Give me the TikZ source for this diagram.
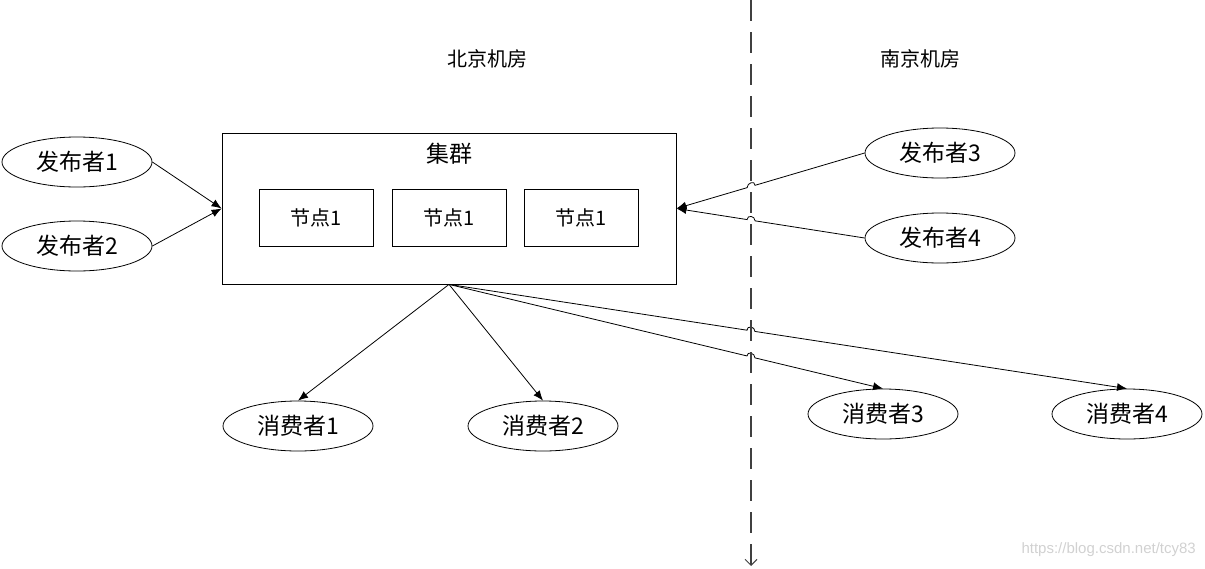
\documentclass[tikz,border=0pt]{standalone}
\usepackage{fontspec}
\setmainfont{Noto Sans CJK SC}
\newfontfamily\wmfont{Liberation Sans}
\usetikzlibrary{shapes.geometric,arrows.meta,calc}
\begin{document}
\begin{tikzpicture}[x=1pt,y=-1pt,
  ell/.style={draw, ellipse, minimum width=150pt, minimum height=50pt, inner sep=0pt, line width=0.8pt, font=\fontsize{23}{27}\selectfont},
  nodebox/.style={draw, rectangle, minimum width=114pt, minimum height=57pt, inner sep=0pt, line width=0.8pt, font=\fontsize{20}{24}\selectfont},
  clusterbox/.style={draw, rectangle, minimum width=454pt, minimum height=151pt, inner sep=0pt, line width=0.8pt},
  conn/.style={line width=0.8pt, -{Latex[length=10pt,width=8pt]}},
  lbl/.style={font=\fontsize{20}{24}\selectfont, inner sep=0pt},
  divider/.style={line width=1.6pt, draw=black!75, dash pattern=on 21pt off 11pt, -{Straight Barb[length=6pt,width=12pt,line width=1pt]}}
]
\useasboundingbox (0,0) rectangle (1205,568);

% labels
\node[lbl] (bj) at (487,59) {北京机房};
\node[lbl] (nj) at (920,59) {南京机房};

% cluster
\node[clusterbox] (cluster) at (449,208.5) {};
\node[inner sep=0pt, font=\fontsize{23}{27}\selectfont] (title) at (449,154) {集群};
\node[nodebox] (n1) at (316.5,217.5) {节点1};
\node[nodebox] (n2) at (449,217.5) {节点1};
\node[nodebox] (n3) at (581,217.5) {节点1};

% publishers
\node[ell] (p1) at (77,162) {发布者1};
\node[ell] (p2) at (77,246) {发布者2};
\node[ell] (p3) at (940,153) {发布者3};
\node[ell] (p4) at (940,238) {发布者4};

% consumers
\node[ell] (c1) at (298,426) {消费者1};
\node[ell] (c2) at (543,426) {消费者2};
\node[ell] (c3) at (883,414) {消费者3};
\node[ell] (c4) at (1127,414) {消费者4};

% connectors
\draw[conn] (p1.east) -- (cluster.west);
\draw[conn] (p2.east) -- (cluster.west);
\draw[conn] (p3.west) -- ($(p3.west)!0.5820!(cluster.east)$)
  .. controls +(0,-5) and +(0,-5) .. ($(p3.west)!0.6243!(cluster.east)$) -- (cluster.east);
\draw[conn] (p4.west) -- ($(p4.west)!0.5820!(cluster.east)$)
  .. controls +(0,-5) and +(0,-5) .. ($(p4.west)!0.6243!(cluster.east)$) -- (cluster.east);
\draw[conn] (cluster.south) -- (c1.north);
\draw[conn] (cluster.south) -- (c2.north);
\draw[conn] (cluster.south) -- ($(cluster.south)!0.6866!(c3.north)$)
  .. controls +(0,-5) and +(0,-5) .. ($(cluster.south)!0.7051!(c3.north)$) -- (c3.north);
\draw[conn] (cluster.south) -- ($(cluster.south)!0.4395!(c4.north)$)
  .. controls +(0,-5) and +(0,-5) .. ($(cluster.south)!0.4513!(c4.north)$) -- (c4.north);

% divider
\coordinate (dtop) at (751,0);
\coordinate (dbot) at (751,566);
\draw[divider] (dtop) -- (dbot);

% watermark
\node[font=\wmfont\fontsize{15}{18}\selectfont, text=black!18, anchor=east, inner sep=0pt] (wm) at (1196,550) {https://blog.csdn.net/tcy83};
\end{tikzpicture}
\end{document}
